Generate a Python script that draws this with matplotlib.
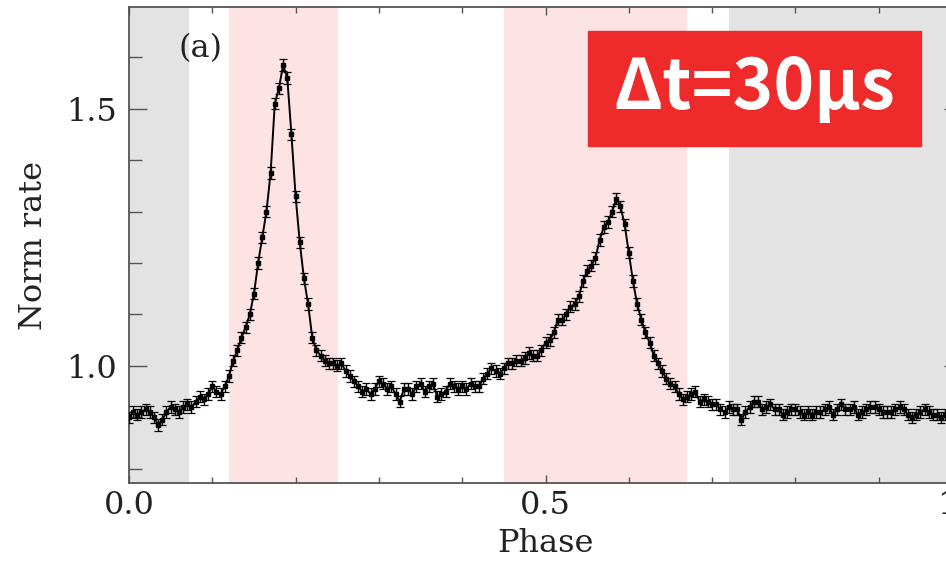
import numpy as np
import matplotlib
matplotlib.use('Agg')
import matplotlib.pyplot as plt
from matplotlib.patches import Rectangle

# pulse profile, 200 phase bins
phase = np.arange(0, 1, 0.005)
rate = [
    0.900, 0.910, 0.905, 0.910, 0.915, 0.910, 0.900, 0.885, 0.895, 0.910,
    0.920, 0.915, 0.910, 0.920, 0.925, 0.920, 0.930, 0.940, 0.935, 0.945,
    0.960, 0.950, 0.945, 0.960, 0.980, 1.010, 1.030, 1.055, 1.075, 1.100,
    1.140, 1.200, 1.250, 1.300, 1.375, 1.510, 1.540, 1.585, 1.560, 1.450,
    1.330, 1.240, 1.170, 1.120, 1.055, 1.030, 1.020, 1.010, 1.005, 1.005,
    1.000, 1.005, 0.990, 0.980, 0.970, 0.960, 0.950, 0.955, 0.945, 0.955,
    0.970, 0.965, 0.955, 0.960, 0.945, 0.930, 0.955, 0.955, 0.945, 0.960,
    0.965, 0.950, 0.960, 0.965, 0.940, 0.945, 0.950, 0.965, 0.960, 0.955,
    0.960, 0.955, 0.965, 0.960, 0.960, 0.975, 0.985, 0.995, 0.990, 0.985,
    0.995, 1.005, 1.005, 1.010, 1.010, 1.015, 1.025, 1.020, 1.020, 1.030,
    1.045, 1.050, 1.065, 1.090, 1.090, 1.100, 1.115, 1.120, 1.135, 1.165,
    1.185, 1.195, 1.210, 1.245, 1.270, 1.280, 1.300, 1.325, 1.310, 1.275,
    1.220, 1.165, 1.120, 1.090, 1.065, 1.045, 1.020, 1.005, 0.990, 0.975,
    0.965, 0.960, 0.945, 0.935, 0.940, 0.945, 0.950, 0.930, 0.935, 0.930,
    0.925, 0.925, 0.915, 0.910, 0.920, 0.915, 0.915, 0.895, 0.910, 0.920,
    0.930, 0.930, 0.915, 0.920, 0.925, 0.915, 0.915, 0.905, 0.910, 0.915,
    0.915, 0.910, 0.905, 0.910, 0.905, 0.910, 0.910, 0.915, 0.920, 0.905,
    0.915, 0.925, 0.915, 0.915, 0.920, 0.905, 0.910, 0.915, 0.920, 0.920,
    0.915, 0.910, 0.910, 0.910, 0.915, 0.920, 0.915, 0.905, 0.900, 0.905,
    0.910, 0.915, 0.910, 0.905, 0.905, 0.900, 0.905, 0.910, 0.905, 0.900,
]
rate_err = 0.011

# shaded phase ranges
gray_ranges = [(0.0, 0.072), (0.72, 1.0)]
pink_ranges = [(0.12, 0.251), (0.45, 0.67)]

plt.rcParams['font.family'] = 'DejaVu Serif'

fig = plt.figure(figsize=(9.46, 5.67), dpi=100)
ax = fig.add_axes([129 / 946, 84 / 567, 833 / 946, 476 / 567])

for lo, hi in gray_ranges:
    ax.axvspan(lo, hi, color='#e3e3e3', lw=0, zorder=0)
for lo, hi in pink_ranges:
    ax.axvspan(lo, hi, color='#fde3e4', lw=0, zorder=0)

ax.errorbar(phase, rate, yerr=rate_err, fmt='-s', color='black', lw=1.4,
            ms=2.6, elinewidth=1.0, capsize=2.8, capthick=0.9, zorder=3)

ax.set_xlim(0, 1)
ax.set_ylim(0.772, 1.698)
ax.set_xticks([0.0, 0.5, 1.0])
ax.set_xticklabels(['0.0', '0.5', '1.0'])
ax.set_xticks(np.arange(0, 1.01, 0.1), minor=True)
ax.set_yticks([1.0, 1.5])
ax.set_yticks([0.8, 0.9, 1.1, 1.2, 1.3, 1.4, 1.6], minor=True)

ax.tick_params(axis='x', which='major', direction='in', top=True, length=6,
               width=1, pad=5, labelsize=23, colors='#555555', labelcolor='#222222')
ax.tick_params(axis='x', which='minor', direction='in', top=True, length=4,
               width=1, colors='#555555')
ax.tick_params(axis='y', which='major', direction='in', right=True, length=13,
               width=1, pad=9, labelsize=23, colors='#555555', labelcolor='#222222')
ax.tick_params(axis='y', which='minor', direction='in', right=True, length=9,
               width=1, colors='#555555')
for s in ax.spines.values():
    s.set_color('#555555')
    s.set_linewidth(1.3)

ax.set_xlabel('Phase', fontsize=23, color='#222222', labelpad=5)
ax.set_ylabel('Norm rate', fontsize=23, color='#222222', labelpad=12)
ax.text(0.0864, 0.912, '(a)', transform=ax.transAxes, fontsize=23,
        ha='center', va='center', color='#222222')

# red label box
fig.patches.append(Rectangle((588 / 946, 421 / 567), 333 / 946, 115 / 567,
                             transform=fig.transFigure, color='#ee2a2b', zorder=5))
fig.text(754 / 946, 478 / 567, 'Δt=30μs', color='white', fontsize=50,
         fontweight='bold', ha='center', va='center', zorder=6,
         family=['Noto Sans CJK JP', 'DejaVu Sans'])

fig.savefig('out.png', dpi=100)
